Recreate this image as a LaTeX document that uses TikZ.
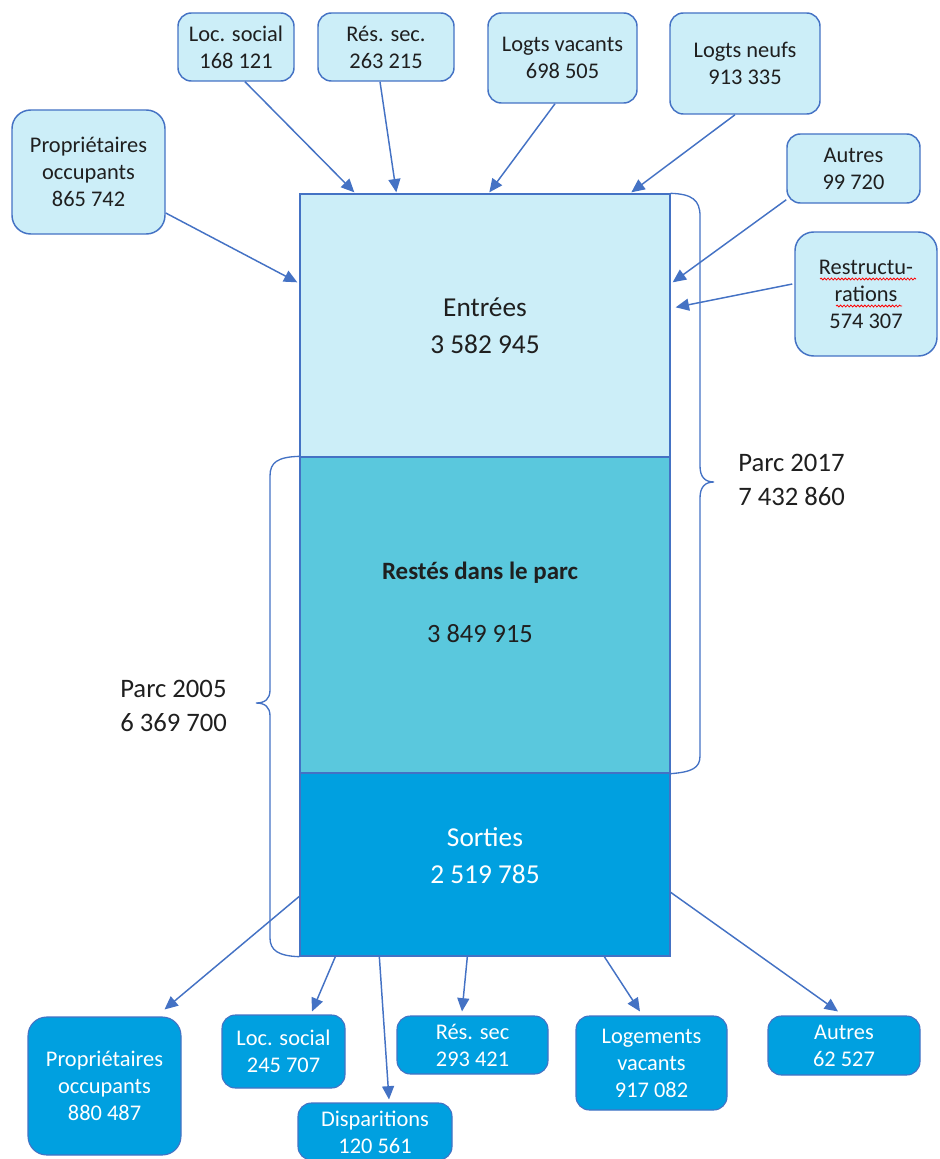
\documentclass[tikz,border=0pt]{standalone}
\usepackage{fontspec}
\setmainfont{Carlito}
\usetikzlibrary{arrows.meta,calc,decorations.pathmorphing}
\definecolor{lineblue}{HTML}{4472C4}
\definecolor{lightcyan}{HTML}{CCEEF8}
\definecolor{midcyan}{HTML}{5AC8DD}
\definecolor{deepcyan}{HTML}{00A0E0}
\tikzset{
  topbox/.style={draw=lineblue, line width=1.1pt, fill=lightcyan, rounded corners=10pt, align=center, inner sep=0pt, font=\fontsize{16.8}{20.3}\selectfont, text=black!88},
  botbox/.style={draw=lineblue, line width=0.8pt, fill=deepcyan, rounded corners=10pt, align=center, inner sep=0pt, font=\fontsize{16.8}{20.3}\selectfont, text=white},
  bottxt/.style={align=center, inner sep=0pt, font=\fontsize{16.8}{20.3}\selectfont, text=white},
  mainbox/.style={draw=lineblue, line width=1pt, inner sep=0pt, minimum width={370*0.75pt}},
  flow/.style={draw=lineblue, line width=1.1pt, -{Triangle[length=10pt,width=9pt]}},
  brace/.style={draw=lineblue, line width=1pt},
  bigtxt/.style={font=\fontsize{20.5}{28}\selectfont, text=black!88, align=center, inner sep=0pt},
  sidetxt/.style={font=\fontsize{20}{26}\selectfont, text=black!88, align=left, inner sep=0pt, anchor=west}
}
\begin{document}
\begin{tikzpicture}[x=0.75pt, y=-0.75pt]
\useasboundingbox (0,0) rectangle (939,1159);

% main column
\node[mainbox, fill=lightcyan, minimum height={263*0.75pt}, bigtxt] (entrees) at (485,325.5) {Entrées\\3 582 945};
\node[mainbox, fill=midcyan, minimum height={316*0.75pt}] (restes) at (485,615) {};
\node[mainbox, fill=deepcyan, minimum height={183*0.75pt}] (sorties) at (485,864.5) {};
\node[bigtxt, font=\bfseries\fontsize{18.7}{24}\selectfont] (restesA) at (480,573) {Restés dans le parc};
\node[bigtxt, font=\fontsize{19.8}{24}\selectfont] (restesB) at (480,634) {3 849 915};
\node[bigtxt, text=white] (sortiesT) at (485,855.5) {Sorties\\2 519 785};

% top boxes
\node[topbox, minimum width={116*0.75pt}, minimum height={68*0.75pt}] (locs) at (236,47) {Loc. social\\168 121};
\node[topbox, minimum width={136*0.75pt}, minimum height={68*0.75pt}] (ress) at (386,47) {Rés. sec.\\263 215};
\node[topbox, minimum width={149*0.75pt}, minimum height={90*0.75pt}] (vac) at (562.5,58) {Logts vacants\\698 505};
\node[topbox, minimum width={150*0.75pt}, minimum height={101*0.75pt}] (neufs) at (745,63.5) {Logts neufs\\913 335};
\node[topbox, minimum width={153*0.75pt}, minimum height={124*0.75pt}, rounded corners=14pt] (prop) at (88.5,172) {Propriétaires\\occupants\\865 742};
\node[topbox, minimum width={133*0.75pt}, minimum height={69*0.75pt}] (autres) at (853.5,168.5) {Autres\\99 720};
\node[topbox, minimum width={142*0.75pt}, minimum height={124*0.75pt}, rounded corners=14pt] (restr) at (866,294) {Restructu-\\rations\\574 307};
\draw[red, line width=0.6pt, decorate, decoration={snake, amplitude=0.7pt, segment length=2.6pt}] ($(restr.center)+(-46,-15)$) -- ($(restr.center)+(50,-15)$);
\draw[red, line width=0.6pt, decorate, decoration={snake, amplitude=0.7pt, segment length=2.6pt}] ($(restr.center)+(-30,12)$) -- ($(restr.center)+(36,12)$);

% bottom boxes
\node[botbox, minimum width={153*0.75pt}, minimum height={138*0.75pt}, rounded corners=14pt] (bprop) at (104.5,1086) {Propriétaires\\occupants\\880 487};
\node[botbox, minimum width={123*0.75pt}, minimum height={73*0.75pt}] (bloc) at (283.5,1051.5) {Loc. social\\245 707};
\node[botbox, minimum width={154*0.75pt}, minimum height={57*0.75pt}] (bdisp) at (375,1131.5) {};
\node[bottxt] (bdispT) at (375,1132) {Disparitions\\120 561};
\node[botbox, minimum width={151*0.75pt}, minimum height={58*0.75pt}] (bres) at (472.5,1045) {Rés. sec\\293 421};
\node[botbox, minimum width={151*0.75pt}, minimum height={94*0.75pt}] (bvac) at (651.5,1063) {Logements\\vacants\\917 082};
\node[botbox, minimum width={152*0.75pt}, minimum height={59*0.75pt}] (baut) at (844,1045.5) {Autres\\62 527};

% top arrows
\draw[flow] ($(locs.south)+(9,0)$) -- ($(entrees.north west)+(55,-1)$);
\draw[flow] ($(ress.south)+(-6,0)$) -- ($(entrees.north west)+(97,-1)$);
\draw[flow] ($(vac.south)+(-7.5,0)$) -- ($(entrees.north west)+(190,-1)$);
\draw[flow] ($(neufs.south)+(-10,0)$) -- ($(entrees.north west)+(332,-1)$);
\draw[flow] ($(prop.east)+(0,41)$) -- ($(entrees.north west)+(-2,89)$);
\draw[flow] ($(autres.south west)+(0,-4)$) -- ($(entrees.north east)+(2,89)$);
\draw[flow] ($(restr.west)+(-2,-10)$) -- ($(entrees.north east)+(5,114)$);

% bottom arrows
\draw[flow] ($(sorties.north west)+(0,124)$) -- ($(bprop.north)+(60,-7)$);
\draw[flow] ($(sorties.south west)+(36,0)$) -- ($(bloc.north)+(28.5,-3)$);
\draw[flow] ($(sorties.south west)+(80,0)$) -- ($(bdisp.north)+(14,-3)$);
\draw[flow] ($(sorties.south west)+(168,0)$) -- ($(bres.north)+(-10.5,-4)$);
\draw[flow] ($(sorties.south west)+(305,0)$) -- ($(bvac.north)+(-11.5,-4)$);
\draw[flow] ($(sorties.north east)+(0,120)$) -- ($(baut.north)+(-6,-4)$);

% braces
\coordinate (rb1) at (entrees.north east);
\coordinate (rb2) at (restes.south east);
\draw[brace] (rb1) .. controls (692,194) and (700,200) .. (700,216) -- (700,466)
  .. controls (700,477) and (705,482) .. (714,482)
  .. controls (705,482) and (700,487) .. (700,498) -- (700,756)
  .. controls (700,768) and (692,772) .. (rb2);
\coordinate (lb1) at (restes.north west);
\coordinate (lb2) at (sorties.south west);
\draw[brace] (lb1) .. controls (278,457) and (270,462) .. (270,476) -- (270,690)
  .. controls (270,699) and (265,703) .. (256,703)
  .. controls (265,703) and (270,707) .. (270,716) -- (270,938)
  .. controls (270,950) and (278,956) .. (lb2);

\node[sidetxt] (p2017) at (738,480) {Parc 2017\\7 432 860};
\node[sidetxt] (p2005) at (120,706) {Parc 2005\\6 369 700};
\end{tikzpicture}
\end{document}
